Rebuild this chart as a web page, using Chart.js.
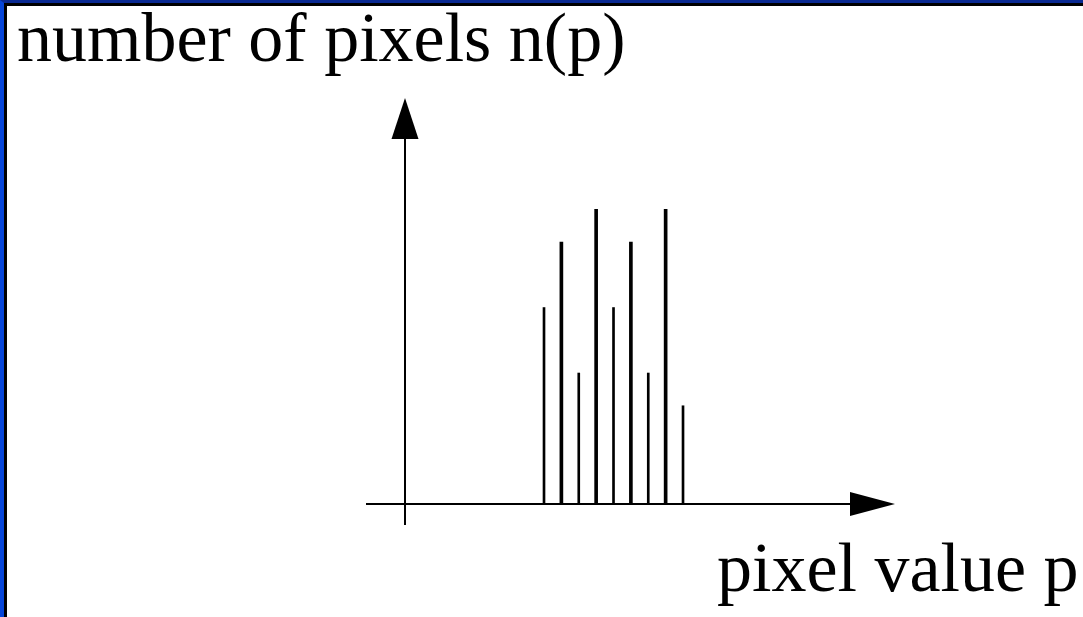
<!DOCTYPE html>
<html>
<head>
<meta charset="utf-8">
<script src="https://cdn.jsdelivr.net/npm/chart.js@4/dist/chart.umd.min.js"></script>
<style>
  html, body { margin: 0; padding: 0; background: #fff; }
  #frame {
    position: absolute; left: 0; top: 0;
    width: 1083px; height: 617px;
    box-sizing: border-box;
    border-left: 4px solid #0645d8;
    border-top: 3px solid #0a2a92;
  }
  #inner {
    width: 100%; height: 100%;
    box-sizing: border-box;
    border-left: 3px solid #000;
    border-top: 3px solid #000;
    background: #fff;
  }
  #histogram { position: absolute; left: 0; top: 0; }
</style>
</head>
<body>
<div id="frame"><div id="inner"></div></div>
<canvas id="histogram" width="1083" height="617"></canvas>
<script>
// Histogram data
const pixelValues = [8, 9, 10, 11, 12, 13, 14, 15, 16];
const counts = [6, 8, 4, 9, 6, 8, 4, 9, 3];
const heavy = [false, true, false, true, false, true, false, true, false];

// Axis extents (origin is where the two arrows cross)
const xMax = 28.2;
const yMax = 12.4;

const yLabel = 'number of pixels n(p)';
const xLabel = 'pixel value p';

const thinBars = pixelValues
  .map((p, i) => ({ x: p, y: counts[i], heavy: heavy[i] }))
  .filter(pt => !pt.heavy);
const thickBars = pixelValues
  .map((p, i) => ({ x: p, y: counts[i], heavy: heavy[i] }))
  .filter(pt => pt.heavy);

// Arrow axes and the two labels
const arrowAxes = {
  id: 'arrowAxes',
  afterDraw(chart) {
    const { ctx } = chart;
    const x0 = chart.scales.x.getPixelForValue(0);
    const y0 = chart.scales.y.getPixelForValue(0);
    const xEnd = chart.scales.x.getPixelForValue(xMax);
    const yEnd = chart.scales.y.getPixelForValue(yMax);

    ctx.save();
    ctx.strokeStyle = '#000';
    ctx.fillStyle = '#000';
    ctx.lineWidth = 2;

    // vertical axis
    ctx.beginPath();
    ctx.moveTo(x0, y0 + 21);
    ctx.lineTo(x0, yEnd + 40);
    ctx.stroke();
    ctx.beginPath();
    ctx.moveTo(x0, yEnd);
    ctx.lineTo(x0 - 13.5, yEnd + 41);
    ctx.lineTo(x0 + 13.5, yEnd + 41);
    ctx.closePath();
    ctx.fill();

    // horizontal axis
    ctx.beginPath();
    ctx.moveTo(x0 - 39, y0);
    ctx.lineTo(xEnd - 44, y0);
    ctx.stroke();
    ctx.beginPath();
    ctx.moveTo(xEnd, y0);
    ctx.lineTo(xEnd - 45, y0 - 12);
    ctx.lineTo(xEnd - 45, y0 + 12);
    ctx.closePath();
    ctx.fill();

    // labels
    ctx.font = '70px "Liberation Serif", "Times New Roman", serif';
    ctx.textBaseline = 'alphabetic';
    ctx.textAlign = 'left';
    ctx.fillText(yLabel, 17, 61);
    ctx.fillText(xLabel, 717, 591);
    ctx.restore();
  }
};

new Chart(document.getElementById('histogram'), {
  type: 'bar',
  data: {
    datasets: [
      {
        label: 'n(p)',
        data: thinBars,
        backgroundColor: '#000',
        borderWidth: 0,
        barThickness: 2
      },
      {
        label: 'n(p) heavy',
        data: thickBars,
        backgroundColor: '#000',
        borderWidth: 0,
        barThickness: 3
      }
    ]
  },
  options: {
    responsive: false,
    animation: false,
    grouped: false,
    layout: {
      padding: { left: 405, right: 188, top: 98, bottom: 113 }
    },
    scales: {
      x: { type: 'linear', min: 0, max: xMax, offset: false, grid: { offset: false }, display: false },
      y: { min: 0, max: yMax, display: false }
    },
    plugins: {
      legend: { display: false },
      tooltip: { enabled: false },
      title: { display: false }
    }
  },
  plugins: [arrowAxes]
});
</script>
</body>
</html>
